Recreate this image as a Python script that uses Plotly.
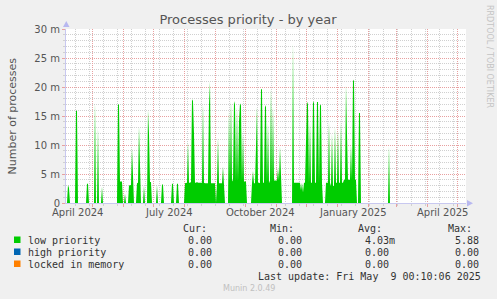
import pandas as pd
import plotly.graph_objects as go

# ---------------- data (values in milli-processes, daily) ----------------
seg_starts = [
    "2024-04-06", "2024-04-14", "2024-04-25", "2024-05-03", "2024-05-06",
    "2024-05-10", "2024-05-26", "2024-06-02", "2024-06-06", "2024-06-14",
    "2024-06-21", "2024-06-25", "2024-07-04", "2024-07-09", "2024-07-19",
    "2024-07-24", "2024-08-01", "2024-09-14", "2024-10-07", "2024-11-17",
    "2024-12-20", "2025-01-22", "2025-02-21",
]
seg_values = [
    [3.1, 2.6],
    [15.9, 15.9],
    [3.3, 3.3],
    [17.5],
    [13.0],
    [2.8],
    [17.0, 17.0, 3.7, 3.7, 3.7],
    [1.6],
    [3.0, 3.1, 3.1, 9.5, 3.1],
    [3.4, 3.5, 13.2, 3.4],
    [3.0],
    [16.0, 12.0, 3.6, 3.6],
    [3.1],
    [3.2, 3.2],
    [3.3, 3.3],
    [3.3, 3.3],
    [3.4, 3.5, 3.5, 10.5, 3.5, 3.5, 3.6, 17.9, 17.6, 12.0,
     3.5, 3.5, 3.6, 3.5, 3.5, 3.4, 3.5, 3.5, 17.3, 3.5,
     3.4, 3.4, 3.4, 3.4, 17.0, 20.9, 3.4, 3.4, 3.4, 3.4,
     3.4, 0.0, 3.4, 11.2, 3.4, 3.4, 3.4, 3.4, 6.3, 3.4],
    [15.9, 3.8, 17.8, 4.0, 3.7, 17.6, 17.0, 3.7, 16.5, 3.7,
     14.0, 17.2, 16.8, 3.8, 12.0, 3.7, 3.7, 3.7],
    [3.4, 5.5, 3.4, 3.4, 9.7, 16.6, 3.6, 3.4, 3.5, 19.6,
     19.6, 3.5, 3.5, 16.9, 16.5, 3.5, 13.8, 3.4, 3.9, 19.8,
     3.5, 16.6, 3.9, 3.9, 3.9, 3.9, 6.0, 3.9, 9.7, 3.6],
    [27.5, 3.5, 3.5, 3.5, 3.5, 3.5, 3.5, 3.5, 2.2, 3.5,
     1.8, 3.5, 3.5, 10.0, 17.5, 17.0, 3.5, 14.0, 3.5, 3.5,
     17.6, 17.2, 3.5, 3.5, 17.4, 17.4, 3.5, 17.0, 16.8, 3.5],
    [3.5, 3.5, 3.5, 14.0, 3.5, 2.9, 12.0, 2.9, 3.0, 13.1,
     3.5, 3.5, 12.5, 3.5, 3.5, 14.0, 3.5, 3.5, 4.0, 4.0,
     20.3, 12.0, 4.0, 4.0, 4.0, 10.0, 4.0, 21.3, 21.0, 4.0, 4.0],
    [15.5, 15.5],
    [9.7],
]

y_tick_vals = [0, 5, 10, 15, 20, 25, 30]
y_tick_text = ["0", "5 m", "10 m", "15 m", "20 m", "25 m", "30 m"]
x_label_dates = ["2024-04-16", "2024-07-16", "2024-10-16", "2025-01-16", "2025-04-16"]
x_label_text = ["April 2024", "July 2024", "October 2024", "January 2025", "April 2025"]

legend_names = ["low priority", "high priority", "locked in memory"]
legend_colors = ["#00cc00", "#0066b3", "#ff8000"]
legend_cur = ["0.00", "0.00", "0.00"]
legend_min = ["0.00", "0.00", "0.00"]
legend_avg = ["4.03m", "0.00", "0.00"]
legend_max = ["5.88", "0.00", "0.00"]

x_start = "2024-04-04 00:10"
x_end = "2025-05-09 00:10"

# ---------------- build daily series ----------------
days = pd.date_range("2024-04-04", "2025-05-09", freq="D")
series = pd.Series(0.0, index=days)
for start, vals in zip(seg_starts, seg_values):
    idx = pd.date_range(start, periods=len(vals), freq="D")
    series.loc[idx] = vals

month_ticks = pd.date_range("2024-04-01", "2025-05-01", freq="MS")
minor_ticks = pd.date_range("2024-03-31", "2025-05-09", freq="14D")

RED = "#e8a0a0"
GREY = "#d0d0d0"
AXIS = "#c8c8f0"
TXT = "#555555"
FONT = "DejaVu Sans"
MONO = "DejaVu Sans Mono"

fig = go.Figure()
fig.add_trace(go.Scatter(
    x=series.index, y=series.values, mode="lines",
    line=dict(width=0, color="#00cc00"), fill="tozeroy",
    fillcolor="#00cc00", hoverinfo="skip", showlegend=False,
))

L, T, W, H = 66, 29, 400, 174


def px(x):
    return (x - L) / W


def py(y):
    return (T + H - y) / H


fig.update_layout(
    width=497, height=299,
    margin=dict(l=L, r=497 - L - W, t=T, b=299 - T - H),
    paper_bgcolor="#f0f0f0", plot_bgcolor="#ffffff",
    showlegend=False,
    title=dict(text="Processes priority - by year", x=248 / 497, xref="container",
               xanchor="center", y=1 - 19.5 / 299, yref="container", yanchor="middle",
               font=dict(family=FONT, size=13, color=TXT)),
    xaxis=dict(
        type="date", range=[x_start, x_end], tickmode="array",
        tickvals=list(month_ticks), ticktext=[""] * len(month_ticks),
        showgrid=True, gridcolor=RED, griddash="1px,1px", gridwidth=1,
        ticks="outside", ticklen=3, tickcolor=RED,
        showline=True, linecolor=AXIS, linewidth=1, zeroline=False,
        minor=dict(tickmode="array", tickvals=list(minor_ticks), showgrid=True,
                   gridcolor=GREY, griddash="1px,1px", ticks="outside",
                   ticklen=2, tickcolor=GREY),
        fixedrange=True,
    ),
    yaxis=dict(
        range=[0, 30], tickmode="array", tickvals=y_tick_vals, ticktext=y_tick_text,
        showgrid=True, gridcolor=RED, griddash="1px,1px", gridwidth=1,
        ticks="outside", ticklen=3, tickcolor=RED,
        tickfont=dict(family=FONT, size=10, color=TXT),
        showline=True, linecolor=AXIS, linewidth=1, zeroline=False,
        minor=dict(dtick=1, showgrid=True, gridcolor=GREY, griddash="1px,1px",
                   ticks="outside", ticklen=2, tickcolor=GREY),
        fixedrange=True,
    ),
)

ann = []
# x labels
for d, t in zip(x_label_dates, x_label_text):
    ann.append(dict(x=d, y=0, xref="x", yref="paper", yanchor="top", xanchor="center",
                    yshift=-3, text=t, showarrow=False, borderpad=0,
                    font=dict(family=FONT, size=10, color=TXT)))
# y title
ann.append(dict(x=px(11.5), y=py(116), xref="paper", yref="paper", text="Number of processes",
                textangle=-90, showarrow=False, xanchor="center", yanchor="middle",
                font=dict(family=FONT, size=11, color=TXT)))
# rrdtool watermark
ann.append(dict(x=px(490), y=py(56), xref="paper", yref="paper", text="RRDTOOL / TOBI OETIKER",
                textangle=90, showarrow=False, xanchor="center", yanchor="middle",
                font=dict(family=FONT, size=8, color="#c4c4c4")))


def mono(x, y, text, anchor="left", color="#333333"):
    ann.append(dict(x=px(x), y=py(y), xref="paper", yref="paper", text=text.replace(" ", "\u00a0"),
                    showarrow=False, xanchor=anchor, yanchor="middle", borderpad=0,
                    font=dict(family=MONO, size=10, color=color)))


mono(182, 228, "Cur:")
mono(269, 228, "Min:")
mono(357, 228, "Avg:")
mono(447, 228, "Max:")
shapes = []
for i, name in enumerate(legend_names):
    yy = 240 + 12 * i
    mono(26.5, yy, name)
    mono(187, yy, legend_cur[i])
    mono(277, yy, legend_min[i])
    mono(364, yy, legend_avg[i])
    mono(454, yy, legend_max[i])
    shapes.append(dict(type="rect", xref="paper", yref="paper",
                       x0=px(14), x1=px(20.5), y0=py(yy + 3), y1=py(yy - 3.5),
                       fillcolor=legend_colors[i], line=dict(width=0)))
mono(482, 276, "Last update: Fri May  9 00:10:06 2025", anchor="right")
ann.append(dict(x=px(249), y=py(288), xref="paper", yref="paper", text="Munin 2.0.49",
                showarrow=False, xanchor="center", yanchor="middle",
                font=dict(family=FONT, size=8, color="#c0c0c0")))

# axis arrows
shapes.append(dict(type="path", xref="paper", yref="paper",
                   path=f"M {px(63)} {py(27)} L {px(69.5)} {py(27)} L {px(66.3)} {py(21)} Z",
                   fillcolor="#b8b8f0", line=dict(width=0)))
shapes.append(dict(type="path", xref="paper", yref="paper",
                   path=f"M {px(467)} {py(200)} L {px(467)} {py(206.5)} L {px(473)} {py(203.3)} Z",
                   fillcolor="#b8b8f0", line=dict(width=0)))

fig.update_layout(annotations=ann, shapes=shapes)
fig.write_html("out.html")
